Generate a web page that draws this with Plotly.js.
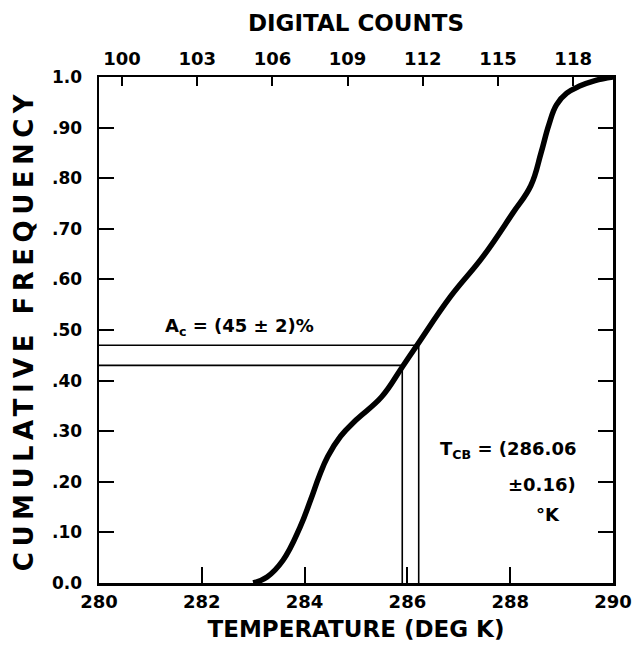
<!DOCTYPE html>
<html>
<head>
<meta charset="utf-8">
<script src="https://cdn.plot.ly/plotly-3.0.1.min.js"></script>
<style>html,body{margin:0;padding:0;background:#fff;}#chart{width:634px;height:655px;}</style>
</head>
<body>
<div id="chart"></div>
<script>
// Cumulative frequency curve (temperature in K vs cumulative frequency)
var temperature = [283.0, 283.27, 283.58, 283.91, 284.12, 284.28, 284.45, 284.7, 285.0, 285.5, 285.9, 286.2, 286.83, 287.47, 288.05, 288.4, 288.6, 288.75, 288.9, 289.1, 289.35, 289.65, 290.0];
var cumFreq = [0.0, 0.012, 0.045, 0.11, 0.165, 0.21, 0.25, 0.29, 0.322, 0.368, 0.427, 0.472, 0.565, 0.645, 0.731, 0.785, 0.85, 0.905, 0.945, 0.968, 0.982, 0.993, 1.0];

// Reference values
var acLow = 0.43, acHigh = 0.47;      // A_c = (45 +/- 2)%
var tcbLow = 285.90, tcbHigh = 286.22; // T_CB = 286.06 +/- 0.16 K

// Axis ticks
var tempTicks = [280, 282, 284, 286, 288, 290];
var freqTicks = [0, 0.1, 0.2, 0.3, 0.4, 0.5, 0.6, 0.7, 0.8, 0.9, 1.0];
var freqLabels = ["0.0", ".10", ".20", ".30", ".40", ".50", ".60", ".70", ".80", ".90", "1.0"];
var countTicks = [100, 103, 106, 109, 112, 115, 118];
var countRange = [99.08, 119.59];

var tempMin = 280, tempMax = 290;

var refStyle = {color: '#000', width: 1.6};
var traces = [
  {x: [tempMin, tcbHigh, tcbHigh], y: [acHigh, acHigh, 0], mode: 'lines', line: refStyle, hoverinfo: 'skip', showlegend: false},
  {x: [tempMin, tcbLow, tcbLow], y: [acLow, acLow, 0], mode: 'lines', line: refStyle, hoverinfo: 'skip', showlegend: false},
  {x: temperature, y: cumFreq, mode: 'lines', line: {color: '#000', width: 5.5, shape: 'spline', smoothing: 1.2}, showlegend: false},
  {x: [countRange[0]], y: [null], xaxis: 'x2', mode: 'markers', marker: {opacity: 0}, showlegend: false, hoverinfo: 'skip'}
];

var bold = function (size) { return {family: 'DejaVu Sans', size: size, color: '#000', weight: 'bold'}; };

var layout = {
  width: 634, height: 655,
  margin: {l: 99, r: 21, t: 77, b: 72},
  paper_bgcolor: '#fff', plot_bgcolor: '#fff',
  font: {family: 'DejaVu Sans', color: '#000'},
  showlegend: false,
  xaxis: {
    range: [tempMin, tempMax], tickvals: tempTicks, ticktext: tempTicks.map(String),
    ticks: 'inside', ticklen: 16, tickwidth: 2, tickcolor: '#000',
    showline: true, linewidth: 2.5, linecolor: '#000', mirror: true,
    showgrid: false, zeroline: false, tickfont: bold(18),
    ticklabelstandoff: 1,
    title: {text: 'TEMPERATURE (DEG K)', font: bold(23), standoff: 10}
  },
  xaxis2: {
    overlaying: 'x', side: 'top', anchor: 'y', range: countRange,
    tickvals: countTicks, ticktext: countTicks.map(String),
    ticks: 'inside', ticklen: 9, tickwidth: 2, tickcolor: '#000',
    showline: false, showgrid: false, zeroline: false,
    tickfont: bold(18),
    ticklabelstandoff: 7,
    title: {text: 'DIGITAL COUNTS', font: bold(23), standoff: 10}
  },
  yaxis: {
    range: [0, 1], tickvals: freqTicks, ticktext: freqLabels,
    ticks: 'inside', ticklen: 15, tickwidth: 2, tickcolor: '#000',
    showline: true, linewidth: 2.5, linecolor: '#000', mirror: 'ticks',
    showgrid: false, zeroline: false, tickfont: bold(17),
    ticklabelstandoff: 11,
    title: {text: '<span style="letter-spacing:5.5px">CUMULATIVE FREQUENCY</span>', font: bold(26), standoff: 11}
  },
  annotations: [
    {x: 282.74, y: 0.506, xref: 'x', yref: 'y', text: 'A<sub>c</sub> = (45 ± 2)%', showarrow: false, xanchor: 'center', yanchor: 'middle', font: bold(18)},
    {x: 289.32, y: 0.263, xref: 'x', yref: 'y', text: 'T<sub>CB</sub> = (286.06', showarrow: false, xanchor: 'right', yanchor: 'middle', font: bold(18)},
    {x: 289.32, y: 0.194, xref: 'x', yref: 'y', text: '±0.16)', showarrow: false, xanchor: 'right', yanchor: 'middle', font: bold(18)},
    {x: 288.74, y: 0.136, xref: 'x', yref: 'y', text: '°K', showarrow: false, xanchor: 'center', yanchor: 'middle', font: bold(18)}
  ]
};

Plotly.newPlot('chart', traces, layout, {displayModeBar: false, staticPlot: true});
</script>
</body>
</html>
